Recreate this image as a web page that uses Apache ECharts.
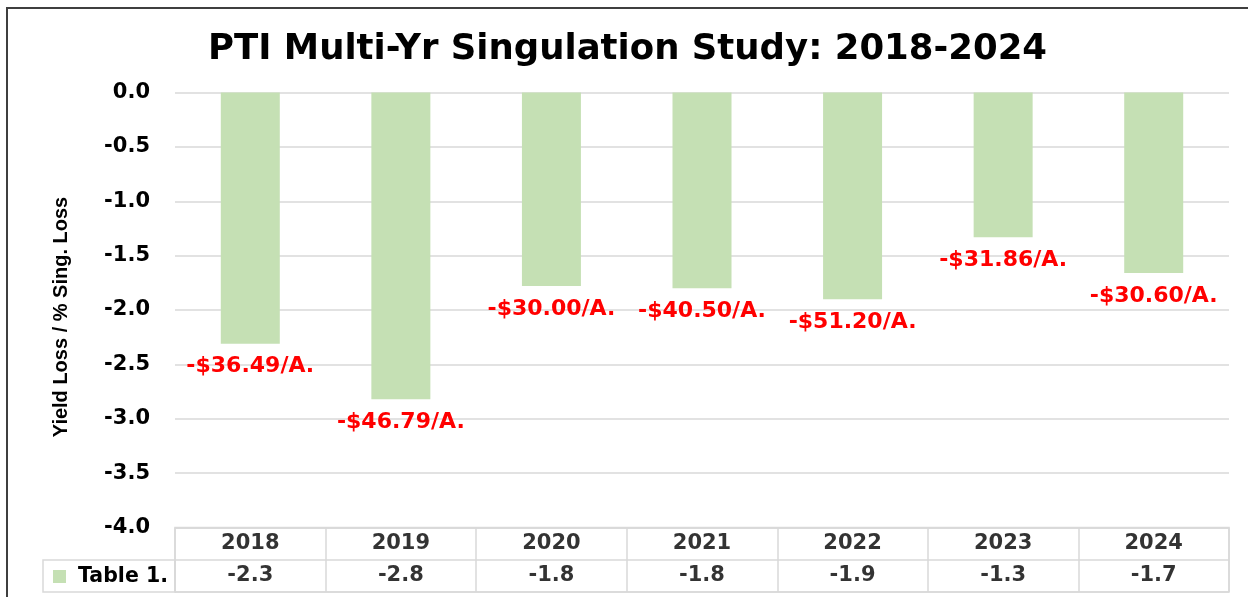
<!DOCTYPE html>
<html>
<head>
<meta charset="utf-8">
<title>PTI Multi-Yr Singulation Study</title>
<script src="https://cdn.jsdelivr.net/npm/echarts@6/dist/echarts.min.js"></script>
<style>
  html, body { margin: 0; padding: 0; background: #fff; }
  #chart { width: 1248px; height: 597px; }
</style>
</head>
<body>
<div id="chart"></div>
<script>
// values
const years = ['2018', '2019', '2020', '2021', '2022', '2023', '2024']
const yieldLoss = [-2.31, -2.82, -1.78, -1.8, -1.9, -1.33, -1.66]
const dollarLoss = ['-$36.49/A.', '-$46.79/A.', '-$30.00/A.', '-$40.50/A.', '-$51.20/A.', '-$31.86/A.', '-$30.60/A.']
const tableRows = ['Table 1.', 'Year']
const yMin = -4
const yMax = 0
const yStep = 0.5

const FONT = 'DejaVu Sans'
const GREEN = '#C5E0B4'
const LINE = '#d9d9d9'

// cells of the data table: header row = years, bottom row = rounded values
const tableCells = []
years.forEach((y, i) => {
  tableCells.push({ value: [i, 1], text: y })
  tableCells.push({ value: [i, 0], text: yieldLoss[i].toFixed(1) })
})

const chart = echarts.init(document.getElementById('chart'), null, { renderer: 'canvas' })

const option = {
  backgroundColor: '#fff',
  animation: false,
  title: {
    text: 'PTI Multi-Yr Singulation Study: 2018-2024',
    left: 203,
    top: 27,
    textStyle: { fontFamily: FONT, fontWeight: 'bold', fontSize: 35.5, color: '#000' },
  },
  legend: {
    data: ['Table 1.'],
    left: 53,
    top: 566,
    padding: 0,
    icon: 'rect',
    itemWidth: 13,
    itemHeight: 13,
    selectedMode: false,
    textStyle: { fontFamily: FONT, fontWeight: 'bold', fontSize: 20.5, color: '#000', padding: [0, 0, 0, 7] },
  },
  graphic: [
    {
      type: 'rect',
      z: 100,
      silent: true,
      shape: { x: 7, y: 8, width: 1300, height: 700 },
      style: { fill: 'none', stroke: '#3f3f3f', lineWidth: 2 },
    },
  ],
  grid: [
    { left: 175, right: 19, top: 92.5, bottom: 69.5 },
    { left: 175, right: 19, top: 527.5, height: 64.5, show: true, borderColor: LINE, borderWidth: 1.5 },
    { left: 43, top: 560, width: 132, height: 32, show: true, borderColor: LINE, borderWidth: 1.5 },
  ],
  xAxis: [
    {
      gridIndex: 0,
      type: 'category',
      data: years,
      axisLine: { show: false },
      axisTick: { show: false },
      axisLabel: { show: false },
    },
    {
      gridIndex: 1,
      type: 'category',
      data: years,
      axisLine: { show: false },
      axisTick: { show: false },
      axisLabel: { show: false },
      splitLine: { show: true, interval: 0, lineStyle: { color: LINE, width: 1.5 } },
    },
    { gridIndex: 2, type: 'value', show: false },
  ],
  yAxis: [
    {
      gridIndex: 0,
      type: 'value',
      min: yMin,
      max: yMax,
      interval: yStep,
      name: 'Yield Loss / % Sing. Loss',
      nameLocation: 'middle',
      nameGap: 104,
      nameTextStyle: {
        fontFamily: 'Liberation Sans',
        fontWeight: 'bold',
        fontSize: 20,
        color: '#000',
        padding: [0, 14, 0, 0],
      },
      axisLine: { show: false },
      axisTick: { show: false },
      axisLabel: {
        margin: 25,
        fontFamily: FONT,
        fontWeight: 'bold',
        fontSize: 21,
        color: '#000',
        formatter: (v) => v.toFixed(1),
      },
      splitLine: { lineStyle: { color: LINE, width: 1.5 } },
    },
    {
      gridIndex: 1,
      type: 'category',
      data: tableRows,
      axisLine: { show: false },
      axisTick: { show: false },
      axisLabel: { show: false },
      splitLine: { show: true, interval: 0, lineStyle: { color: LINE, width: 1.5 } },
    },
    { gridIndex: 2, type: 'value', show: false },
  ],
  series: [
    {
      name: 'Table 1.',
      type: 'bar',
      xAxisIndex: 0,
      yAxisIndex: 0,
      data: yieldLoss,
      barWidth: 59,
      itemStyle: { color: GREEN },
      label: {
        show: true,
        position: 'bottom',
        distance: 12,
        fontFamily: FONT,
        fontWeight: 'bold',
        fontSize: 22,
        color: '#ff0000',
        formatter: (p) => dollarLoss[p.dataIndex],
      },
    },
    {
      name: 'table',
      type: 'scatter',
      xAxisIndex: 1,
      yAxisIndex: 1,
      silent: true,
      symbolSize: 0,
      data: tableCells,
      label: {
        show: true,
        position: 'inside',
        fontFamily: FONT,
        fontWeight: 'bold',
        fontSize: 21,
        color: '#000',
        formatter: (p) => p.data.text,
      },
    },
  ],
}

chart.setOption(option)
window.addEventListener('resize', () => {
  chart.resize()
})
</script>
</body>
</html>
